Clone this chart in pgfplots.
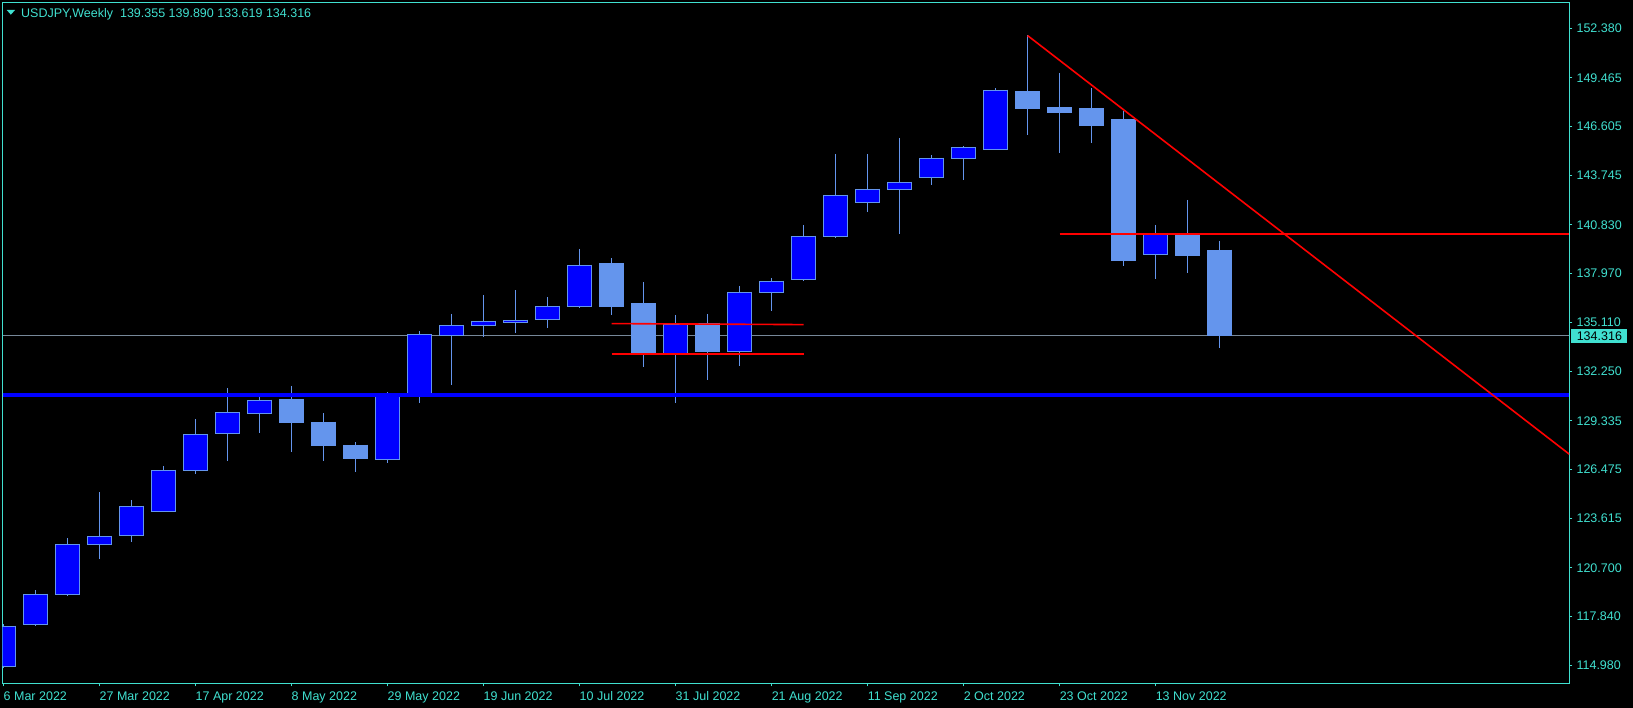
\documentclass[border=0pt]{standalone}
\usepackage{pgfplots}
\usepackage{pgfplotstable}
\pgfplotsset{compat=1.18}
\usepackage{fontspec}
\setmainfont{Liberation Sans}
\definecolor{tcol}{RGB}{64,224,208}
\definecolor{cfb}{RGB}{100,149,237}
\definecolor{mtblue}{RGB}{0,0,255}
\definecolor{mtred}{RGB}{255,0,0}
\definecolor{bidgrey}{RGB}{119,136,153}
\newcommand\mtfont{\fontsize{12.5}{15}\selectfont}
% weekly candles, k = weeks since 6 Mar 2022
\pgfplotstableread{
k O H L C
0 114.92 117.40 114.80 117.28
1 117.39 119.38 117.29 119.15
2 119.13 122.44 119.05 122.08
3 122.06 125.15 121.22 122.55
4 122.59 124.69 122.22 124.32
5 124.00 126.68 124.00 126.43
6 126.41 129.44 126.23 128.54
7 128.58 131.26 127.00 129.83
8 129.78 130.85 128.64 130.54
12 127.05 131.03 126.88 130.83
13 130.87 134.59 130.40 134.41
14 134.36 135.61 131.46 134.94
15 134.94 136.72 134.27 135.18
16 135.09 137.01 134.51 135.24
17 135.29 136.60 134.80 136.06
18 136.06 139.42 135.98 138.47
21 133.30 135.55 130.40 135.00
23 133.39 137.25 132.55 136.88
24 136.86 137.72 135.78 137.53
25 137.64 140.83 137.52 140.17
26 140.17 145.00 140.09 142.58
27 142.16 145.00 141.61 142.93
28 142.93 145.94 140.32 143.34
29 143.63 144.94 143.20 144.75
30 144.75 145.47 143.49 145.39
31 145.28 148.86 145.28 148.74
36 139.09 140.83 137.68 140.28
}\bulls
\pgfplotstableread{
k O H L C
9 130.56 131.38 127.52 129.22
10 129.26 129.79 126.99 127.87
11 127.91 128.07 126.35 127.11
19 138.54 138.89 135.57 136.03
20 136.19 137.49 132.51 133.32
22 135.06 135.61 131.73 133.43
32 148.64 151.97 146.12 147.66
33 147.70 149.76 145.08 147.42
34 147.64 148.87 145.66 146.66
35 147.05 147.54 138.44 138.73
37 140.28 142.30 138.03 139.01
38 139.355 139.890 133.619 134.316
}\bears
\pgfplotsset{
  bar from/.style={draw=none, mark=none, forget plot,
    error bars/.cd, y dir=minus, y explicit, error mark=none,
    error bar style={draw=#1}},
}
\begin{document}
\begin{tikzpicture}
\fill[black] (0pt,0pt) rectangle (1633pt,708pt);
\begin{axis}[
  at={(2.5pt,24.5pt)}, anchor=south west,
  scale only axis, width=1566.8pt, height=680.8pt,
  xmin=-0.031, xmax=48.93, ymin=113.91, ymax=153.88,
  axis background/.style={fill=black},
  axis line style={tcol, line width=1pt},
  tick align=outside, major tick length=3pt,
  tick style={tcol, line width=1pt},
  xtick pos=bottom, ytick pos=right, yticklabel pos=right,
  xtick={0,3,...,36},
  xticklabels={6 Mar 2022, 27 Mar 2022, 17 Apr 2022, 8 May 2022, 29 May 2022, 19 Jun 2022, 10 Jul 2022, 31 Jul 2022, 21 Aug 2022, 11 Sep 2022, 2 Oct 2022, 23 Oct 2022, 13 Nov 2022},
  ytick={152.380,149.465,146.605,143.745,140.830,137.970,135.110,132.250,129.335,126.475,123.615,120.700,117.840,114.980},
  yticklabels={152.380,149.465,146.605,143.745,140.830,137.970,135.110,132.250,129.335,126.475,123.615,120.700,117.840,114.980},
  xticklabel style={anchor=base west, inner sep=0pt, text=tcol, font=\mtfont, yshift=-14pt},
  yticklabel style={anchor=west, inner sep=0pt, text=tcol, font=\mtfont, xshift=4pt},
  clip=true,
]
\addplot[bidgrey, line width=1pt] coordinates {(-0.031,134.316) (48.93,134.316)};
% wicks
\addplot[bar from=cfb, error bar style={line width=1pt}] table[x=k, y=H, y error minus expr=\thisrow{H}-\thisrow{L}] {\bulls};
\addplot[bar from=cfb, error bar style={line width=1pt}] table[x=k, y=H, y error minus expr=\thisrow{H}-\thisrow{L}] {\bears};
% bodies: outer (border colour)
\addplot[bar from=cfb, error bar style={line width=24.3pt}] table[x=k, y expr=\thisrow{C}+0.03, y error minus expr=\thisrow{C}-\thisrow{O}+0.06] {\bulls};
\addplot[bar from=cfb, error bar style={line width=24.3pt}] table[x=k, y expr=\thisrow{O}+0.03, y error minus expr=\thisrow{O}-\thisrow{C}+0.06] {\bears};
% bodies: inner fill of bullish candles
\addplot[bar from=mtblue, error bar style={line width=22.3pt}] table[x=k, y expr=\thisrow{C}-0.03, y error minus expr=\thisrow{C}-\thisrow{O}-0.06] {\bulls};
% objects
\addplot[mtblue, line width=3.8pt] coordinates {(-0.031,130.86) (48.93,130.86)};
\addplot[mtred, line width=1.6pt] coordinates {(19,135.04) (25,134.98)};
\addplot[mtred, line width=1.6pt] coordinates {(19,133.26) (25,133.26)};
\addplot[mtred, line width=1.6pt] coordinates {(33,140.31) (48.93,140.31)};
\addplot[mtred, line width=1.6pt] coordinates {(32,151.95) (48.93,127.37)};
\coordinate (pl) at (axis cs:48.93,134.316);
\end{axis}
\node[anchor=west, xshift=1.7pt, fill=tcol, text=black, font=\mtfont, inner xsep=5.5pt, inner ysep=0pt, minimum height=13.4pt] at (pl) {134.316};
\fill[tcol] (6.7pt,698pt) -- (15pt,698pt) -- (10.85pt,693.3pt) -- cycle;
\node[anchor=base west, inner sep=0pt, text=tcol, font=\mtfont] at (21pt,690.7pt) {USDJPY,Weekly\ \ 139.355 139.890 133.619 134.316};
\pgfresetboundingbox
\path[use as bounding box] (0pt,0pt) rectangle (1633pt,708pt);
\end{tikzpicture}
\end{document}
